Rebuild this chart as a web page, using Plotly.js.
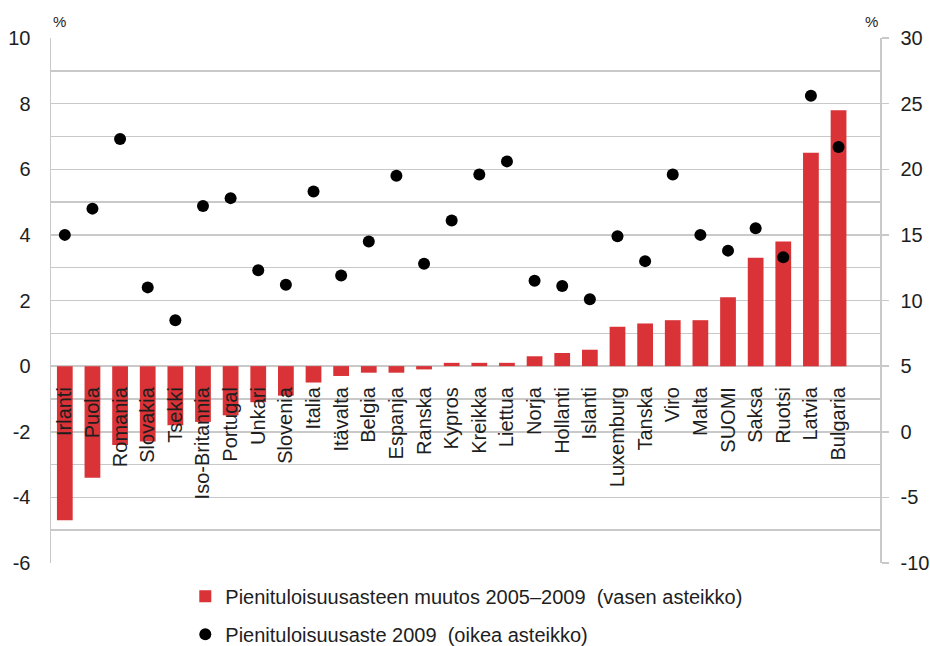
<!DOCTYPE html>
<html>
<head>
<meta charset="utf-8">
<script src="https://cdn.plot.ly/plotly-3.0.1.min.js"></script>
<style>
html, body { margin: 0; padding: 0; background: #fff; }
#chart { width: 930px; height: 646px; }
</style>
</head>
<body>
<div id="chart"></div>
<script>
const countries = ["Irlanti","Puola","Romania","Slovakia","Tsekki","Iso-Britannia","Portugal","Unkari","Slovenia","Italia","Itävalta","Belgia","Espanja","Ranska","Kypros","Kreikka","Liettua","Norja","Hollanti","Islanti","Luxemburg","Tanska","Viro","Malta","SUOMI","Saksa","Ruotsi","Latvia","Bulgaria"];
const change0509 = [-4.7,-3.4,-2.4,-2.3,-1.8,-1.7,-1.5,-1.1,-0.9,-0.5,-0.3,-0.2,-0.2,-0.1,0.1,0.1,0.1,0.3,0.4,0.5,1.2,1.3,1.4,1.4,2.1,3.3,3.8,6.5,7.8];
const rate2009 = [15.0,17.0,22.3,11.0,8.5,17.2,17.8,12.3,11.2,18.3,11.9,14.5,19.5,12.8,16.1,19.6,20.6,11.5,11.1,10.1,14.9,13.0,19.6,15.0,13.8,15.5,13.3,25.6,21.7];
const leftTickVals = [-6,-4,-2,0,2,4,6,8,10];
const leftTickText = ["-6","-4","-2","0","2","4","6","8","10"];
const rightTickVals = [-10,-5,0,5,10,15,20,25,30];
const rightTickText = ["-10","-5","0","5","10","15","20","25","30"];
const legendBar = "Pienituloisuusasteen muutos 2005–2009  (vasen asteikko)";
const legendDot = "Pienituloisuusaste 2009  (oikea asteikko)";

const FONT = "Liberation Sans, Arial, sans-serif";
const GRID = "#c9c9c9";
const TXT = "#1e1e1e";

const traces = [
  {
    type: "bar", x: countries, y: change0509, name: legendBar,
    marker: { color: "#d93237" }, width: 0.57,
    legendgroup: "a", yaxis: "y"
  },
  {
    type: "scatter", mode: "markers", x: countries, y: rate2009, name: legendDot,
    marker: { color: "#000", size: 12 },
    legendgroup: "b", yaxis: "y2"
  }
];

const layout = {
  width: 930, height: 646,
  margin: { l: 51, r: 50, t: 38, b: 83, autoexpand: false },
  paper_bgcolor: "#fff", plot_bgcolor: "#fff",
  font: { family: FONT, size: 20, color: TXT },
  showlegend: true,
  legend: {
    x: 0.162, xanchor: "left", y: -0.026, yanchor: "top",
    traceorder: "grouped", tracegroupgap: 9,
    font: { family: FONT, size: 20, color: TXT },
    bgcolor: "rgba(0,0,0,0)"
  },
  xaxis: {
    type: "category",
    range: [-0.5, 29.5],
    anchor: "free", position: 0.375,
    showgrid: false, showline: false, zeroline: false,
    ticks: "", tickangle: -90,
    ticklabelstandoff: 16,
    tickfont: { family: FONT, size: 20, color: TXT },
    fixedrange: true
  },
  yaxis: {
    range: [-6, 10],
    tickmode: "array", tickvals: leftTickVals, ticktext: leftTickText,
    showgrid: true, gridcolor: GRID, gridwidth: 1.5,
    minor: { dtick: 1, tick0: 0, showgrid: true, gridcolor: GRID, gridwidth: 1.5 },
    zeroline: false,
    showline: true, linecolor: GRID, linewidth: 1.5,
    ticks: "", ticklabelstandoff: 15,
    tickfont: { family: FONT, size: 20, color: TXT }
  },
  yaxis2: {
    overlaying: "y", side: "right",
    range: [-10, 30],
    tickmode: "array", tickvals: rightTickVals, ticktext: rightTickText,
    showgrid: false, zeroline: false,
    showline: true, linecolor: GRID, linewidth: 1.5,
    ticks: "outside", ticklen: 7, tickcolor: GRID, tickwidth: 1.5,
    ticklabelstandoff: 8,
    tickfont: { family: FONT, size: 20, color: TXT }
  },
  annotations: [
    { text: "%", xref: "paper", yref: "paper", x: (59 - 51) / 829, y: (563 - 22) / 525,
      showarrow: false, font: { family: FONT, size: 15, color: TXT }, xanchor: "center", yanchor: "middle" },
    { text: "%", xref: "paper", yref: "paper", x: (871 - 51) / 829, y: (563 - 22) / 525,
      showarrow: false, font: { family: FONT, size: 15, color: TXT }, xanchor: "center", yanchor: "middle" }
  ]
};

Plotly.newPlot("chart", traces, layout, { displayModeBar: false, staticPlot: true });
</script>
</body>
</html>
